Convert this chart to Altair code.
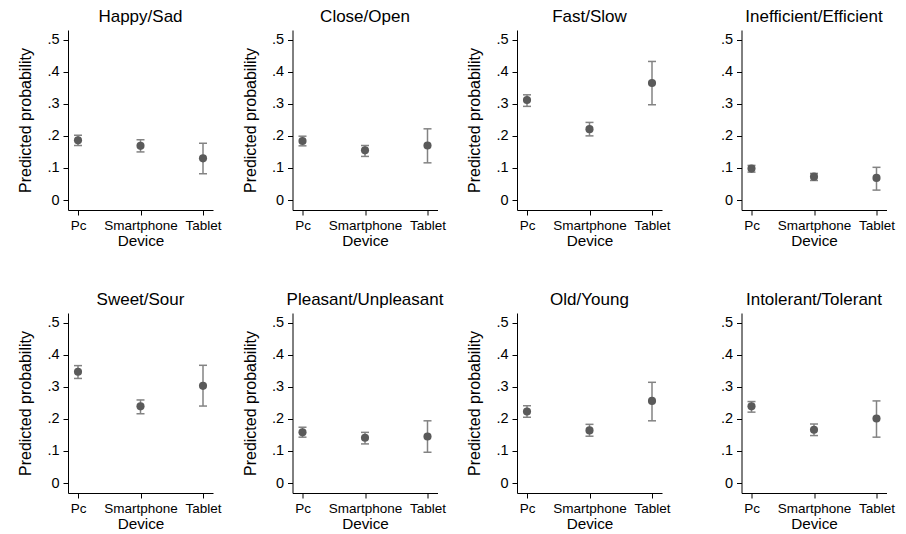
import altair as alt
import pandas as pd

devices = ["Pc", "Smartphone", "Tablet"]
panels = ["Happy/Sad", "Close/Open", "Fast/Slow", "Inefficient/Efficient",
          "Sweet/Sour", "Pleasant/Unpleasant", "Old/Young", "Intolerant/Tolerant"]

est_happy = [0.186, 0.169, 0.130]
lo_happy = [0.170, 0.150, 0.082]
hi_happy = [0.202, 0.188, 0.177]

est_close = [0.184, 0.155, 0.170]
lo_close = [0.169, 0.136, 0.116]
hi_close = [0.199, 0.170, 0.222]

est_fast = [0.312, 0.221, 0.365]
lo_fast = [0.292, 0.200, 0.297]
hi_fast = [0.328, 0.242, 0.432]

est_ineff = [0.098, 0.073, 0.069]
lo_ineff = [0.087, 0.061, 0.031]
hi_ineff = [0.108, 0.083, 0.102]

est_sweet = [0.347, 0.239, 0.303]
lo_sweet = [0.326, 0.216, 0.240]
hi_sweet = [0.366, 0.259, 0.367]

est_pleas = [0.158, 0.141, 0.145]
lo_pleas = [0.143, 0.122, 0.096]
hi_pleas = [0.174, 0.158, 0.194]

est_old = [0.223, 0.164, 0.256]
lo_old = [0.205, 0.146, 0.194]
hi_old = [0.241, 0.183, 0.314]

est_intol = [0.239, 0.166, 0.201]
lo_intol = [0.221, 0.148, 0.143]
hi_intol = [0.254, 0.184, 0.256]

series = [
    (est_happy, lo_happy, hi_happy),
    (est_close, lo_close, hi_close),
    (est_fast, lo_fast, hi_fast),
    (est_ineff, lo_ineff, hi_ineff),
    (est_sweet, lo_sweet, hi_sweet),
    (est_pleas, lo_pleas, hi_pleas),
    (est_old, lo_old, hi_old),
    (est_intol, lo_intol, hi_intol),
]

FONT = "Liberation Sans"
PT_COLOR = "#5a5a5a"
BAR_COLOR = "#838383"


def yenc(field, show_title):
    axis_kwargs = dict(
        values=[0, 0.1, 0.2, 0.3, 0.4, 0.5],
        labelExpr="datum.value == 0 ? '0' : replace(format(datum.value, '.1f'), '0.', '.')",
        grid=False, domainColor="black", tickColor="black", tickSize=5,
        labelFontSize=14.5, labelColor="black", labelPadding=4,
        titleFontSize=16, titleFontWeight="normal", titleColor="black", titlePadding=13,
    )
    axis_kwargs["title"] = "Predicted probability" if show_title else ""
    return alt.Y(field, type="quantitative",
                 scale=alt.Scale(domain=[-0.031, 0.53], nice=False, zero=False),
                 axis=alt.Axis(**axis_kwargs))


xenc = alt.X("device:O",
             scale=alt.Scale(type="point", padding=0.16, domain=devices),
             axis=alt.Axis(title="Device", labelAngle=0, grid=False,
                           domainColor="black", tickColor="black", tickSize=5,
                           labelFontSize=13.5, labelColor="black", labelPadding=3,
                           titleFontSize=15.3, titleFontWeight="normal",
                           titleColor="black", titlePadding=2))

charts = []
for i, (name, (e, lo, hi)) in enumerate(zip(panels, series)):
    df = pd.DataFrame({"device": devices, "est": e, "lo": lo, "hi": hi})
    show_title = (i % 4) != 3
    base = alt.Chart(df).encode(x=xenc)
    rule = base.mark_rule(color=BAR_COLOR, strokeWidth=1.5).encode(
        y=yenc("lo", show_title), y2="hi:Q")
    cap_lo = base.mark_tick(orient="horizontal", size=8, thickness=1.5,
                            color=BAR_COLOR, opacity=1).encode(y=yenc("lo", show_title))
    cap_hi = base.mark_tick(orient="horizontal", size=8, thickness=1.5,
                            color=BAR_COLOR, opacity=1).encode(y=yenc("hi", show_title))
    pts = base.mark_circle(size=66, color=PT_COLOR, opacity=1).encode(
        y=yenc("est", show_title))
    layer = alt.layer(rule, cap_lo, cap_hi, pts).properties(
        width=145, height=180,
        title=alt.TitleParams(name, fontSize=17, font=FONT, fontWeight="normal",
                              color="black", offset=4),
    )
    charts.append(layer)

chart = alt.concat(*charts, columns=4,
                   spacing={"row": 103, "column": 79.5},
                   bounds="flush").properties(
    padding={"left": 17, "top": 8, "right": 5, "bottom": 5}
).configure(font=FONT).configure_view(stroke=None)

chart.save("out.html", embed_options={"renderer": "svg", "actions": False})
